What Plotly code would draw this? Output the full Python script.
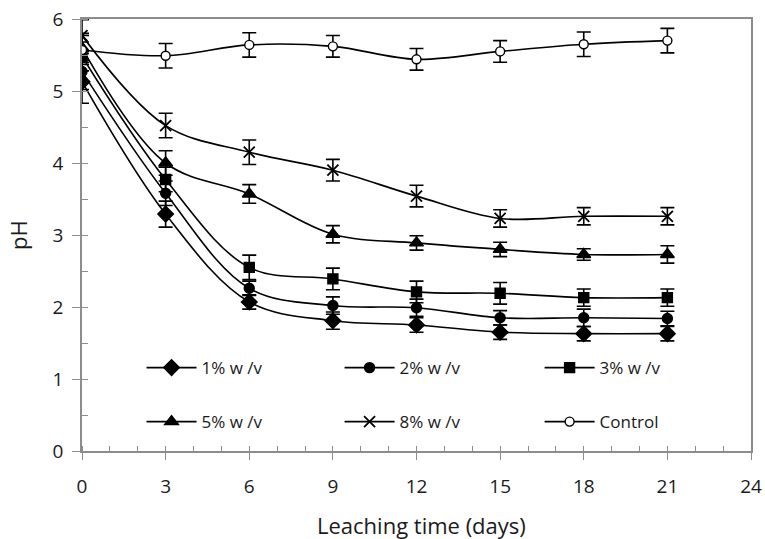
import plotly.graph_objects as go

days = [0, 3, 6, 9, 12, 15, 18, 21]

names = ["1% w /v", "2% w /v", "3% w /v", "5% w /v", "8% w /v", "Control"]
ph_1 = [5.13, 3.29, 2.07, 1.81, 1.75, 1.65, 1.63, 1.63]
ph_2 = [5.27, 3.58, 2.26, 2.02, 1.99, 1.85, 1.85, 1.84]
ph_3 = [5.48, 3.77, 2.55, 2.39, 2.21, 2.19, 2.13, 2.13]
ph_5 = [5.60, 4.00, 3.57, 3.01, 2.89, 2.80, 2.73, 2.73]
ph_8 = [5.77, 4.52, 4.15, 3.90, 3.54, 3.23, 3.26, 3.26]
ph_c = [5.57, 5.49, 5.64, 5.62, 5.44, 5.55, 5.65, 5.70]

err_1 = [0.30, 0.18, 0.10, 0.12, 0.10, 0.10, 0.10, 0.10]
err_2 = [0.25, 0.17, 0.10, 0.12, 0.12, 0.10, 0.12, 0.10]
err_3 = [0.20, 0.17, 0.17, 0.15, 0.15, 0.15, 0.12, 0.12]
err_5 = [0.20, 0.17, 0.13, 0.12, 0.10, 0.10, 0.08, 0.12]
err_8 = [0.22, 0.17, 0.17, 0.15, 0.15, 0.12, 0.12, 0.12]
err_c = [0.20, 0.17, 0.17, 0.15, 0.15, 0.15, 0.17, 0.17]

x_title = "Leaching time (days)"
y_title = "pH"

series = [ph_1, ph_2, ph_3, ph_5, ph_8, ph_c]
errors = [err_1, err_2, err_3, err_5, err_8, err_c]
symbols = ["diamond", "circle", "square", "triangle-up", "x-thin", "circle"]
fills = ["black", "black", "black", "black", "black", "white"]
sizes = [12, 10, 10, 12, 11, 9]
legend_ids = ["legend", "legend2", "legend3", "legend4", "legend5", "legend6"]

FONT = "Open Sans, Noto Sans, DejaVu Sans, sans-serif"
TXT = "#1a1a1a"

fig = go.Figure()
for name, ys, es, sym, fc, sz, lg in zip(names, series, errors, symbols, fills, sizes, legend_ids):
    fig.add_trace(go.Scatter(
        x=days, y=ys, name=name, mode="lines+markers",
        line=dict(color="black", width=1.6, shape="spline", smoothing=1.0),
        marker=dict(symbol=sym, size=sz, color=fc,
                    line=dict(color="black", width=1.8 if sym == "x-thin" else 1.4)),
        error_y=dict(type="data", array=es, visible=True, color="black",
                     thickness=1.6, width=7),
        legend=lg,
    ))

# legend grid placement (paper coords within plot area)
col_x = [0.089, 0.385, 0.684]
row_y = [0.192, 0.067]
legend_layout = {}
for i, lg in enumerate(legend_ids):
    legend_layout[lg] = dict(
        orientation="h", x=col_x[i % 3], y=row_y[i // 3],
        xanchor="left", yanchor="middle", itemwidth=50,
        font=dict(size=17, family=FONT, color=TXT),
        bgcolor="rgba(0,0,0,0)", borderwidth=0,
    )

axis_gray = "#8c8c8c"
fig.update_layout(
    width=765, height=539,
    margin=dict(l=82, r=14, t=19, b=88),
    paper_bgcolor="white", plot_bgcolor="white",
    font=dict(family=FONT, color=TXT, size=19),
    showlegend=True,
    xaxis=dict(range=[0, 24], tickmode="linear", tick0=0, dtick=3, automargin=False,
               showgrid=False, zeroline=False, showline=True, linecolor=axis_gray,
               linewidth=1.5, mirror=True, ticks="outside", ticklen=7, tickwidth=1.2,
               tickcolor=axis_gray, ticklabelstandoff=10, ticklabeloverflow="allow",
               minor=dict(dtick=1, ticks="inside", ticklen=5, tickcolor=axis_gray, tickwidth=1),
               tickfont=dict(size=19, family=FONT)),
    yaxis=dict(range=[0, 6], tickmode="linear", tick0=0, dtick=1, automargin=False,
               showgrid=False, zeroline=False, showline=True, linecolor=axis_gray,
               linewidth=1.5, mirror=True, ticks="outside", ticklen=8, tickwidth=1.2,
               tickcolor=axis_gray, ticklabelstandoff=5, ticklabeloverflow="allow",
               minor=dict(dtick=0.5, ticks="inside", ticklen=6, tickcolor=axis_gray, tickwidth=1),
               tickfont=dict(size=19, family=FONT)),
    annotations=[
        dict(text=x_title, xref="paper", yref="paper", x=0.5075, y=-0.172,
             xanchor="center", yanchor="middle", showarrow=False,
             font=dict(size=22, family=FONT, color=TXT)),
        dict(text=y_title, xref="paper", yref="paper", x=-0.0957, y=0.5,
             xanchor="center", yanchor="middle", showarrow=False, textangle=-90,
             font=dict(size=22, family=FONT, color=TXT)),
    ],
    **legend_layout,
)

fig.write_html(
    "out.html",
    config={"displayModeBar": False},
    post_script="document.body.style.margin='0';document.body.style.overflow='hidden';",
)
